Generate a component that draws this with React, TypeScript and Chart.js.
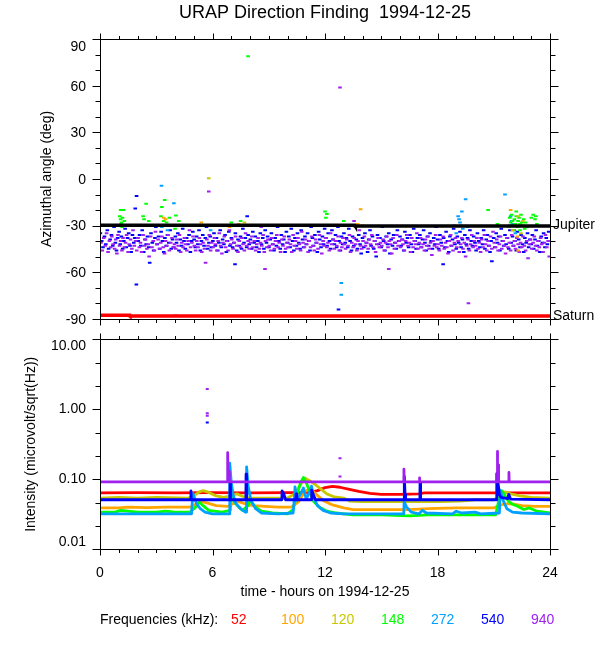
import React, { useEffect, useRef } from 'react';
import { Chart, registerables } from 'chart.js';

Chart.register(...registerables);

const FONT = '"Liberation Sans", Arial, Helvetica, sans-serif';

// ---------- shared axis values ----------
const hourMajor = [0, 6, 12, 18, 24];
const hourMinor = [1, 2, 3, 4, 5, 7, 8, 9, 10, 11, 13, 14, 15, 16, 17, 19, 20, 21, 22, 23];
const angleMajor = [-90, -60, -30, 0, 30, 60, 90];
const angleMinor = [-80, -70, -50, -40, -20, -10, 10, 20, 40, 50, 70, 80];
const intensityMajor = [0.01, 0.1, 1, 10];
const intensityMinor = [0.0215, 0.0464, 0.215, 0.464, 2.15, 4.64];

// ---------- frequencies ----------
const freqLabels = ['52', '100', '120', '148', '272', '540', '940'];
const freqColors = ['#ff0000', '#ffa500', '#c8c800', '#00ff00', '#00a0ff', '#0000ff', '#a020f0'];

// ---------- top panel: azimuth (deg) vs hour ----------
const jupiterLine: [number, number][] = [[0, -29.8], [13.6, -29.8], [13.62, -30.2], [24, -30.2]];
const saturnLine: [number, number][] = [[0, -87.8], [1.6, -87.8], [1.62, -88.3], [24, -88.3]];

const az940: [number, number][] = [
  [0.05,-41],[0.12,-46],[0.2,-38],[0.28,-43],[0.35,-35],[0.43,-47],[0.5,-40],[0.57,-44],[0.63,-37],[0.7,-42],[0.78,-45],[0.84,-39],[0.9,-48],[0.96,-36],
  [1.04,-43],[1.1,-40],[1.17,-46],[1.23,-38],[1.3,-44],[1.36,-41],[1.42,-36],[1.5,-47],[1.56,-42],[1.63,-39],[1.7,-45],[1.76,-33],[1.83,-43],[1.9,-40],[1.96,-46],
  [2.03,-38],[2.1,-44],[2.16,-41],[2.22,-47],[2.3,-36],[2.37,-43],[2.43,-39],[2.5,-45],[2.57,-42],[2.62,-50],[2.7,-37],[2.77,-44],[2.84,-40],[2.9,-46],[2.96,-34],
  [3.03,-42],[3.1,-39],[3.17,-45],[3.24,-41],[3.3,-37],[3.37,-44],[3.44,-48],[3.5,-40],[3.57,-43],[3.63,-36],[3.7,-46],[3.77,-41],[3.84,-38],[3.9,-44],[3.97,-42],
  [4.04,-45],[4.1,-39],[4.17,-43],[4.24,-36],[4.3,-47],[4.36,-41],[4.43,-44],[4.5,-38],[4.56,-42],[4.63,-46],[4.7,-40],[4.77,-33],[4.83,-44],[4.9,-41],[4.96,-37],
  [5.03,-43],[5.1,-46],[5.16,-40],[5.23,-44],[5.3,-38],[5.36,-42],[5.43,-47],[5.5,-41],[5.57,-45],[5.63,-54],[5.7,-39],[5.76,-43],[5.83,-36],[5.9,-46],[5.96,-41],
  [6.03,-44],[6.1,-38],[6.16,-42],[6.23,-46],[6.3,-40],[6.36,-35],[6.43,-43],[6.5,-48],[6.56,-41],[6.63,-37],[6.7,-44],[6.76,-40],[6.83,-46],[6.9,-33],[6.96,-42],
  [7.03,-39],[7.1,-45],[7.16,-41],[7.23,-37],[7.3,-43],[7.36,-47],[7.43,-40],[7.5,-44],[7.56,-38],[7.63,-42],[7.7,-46],[7.76,-35],[7.83,-43],[7.9,-40],[7.96,-45],
  [8.03,-41],[8.1,-37],[8.16,-44],[8.23,-40],[8.3,-46],[8.36,-42],[8.43,-38],[8.5,-45],[8.56,-41],[8.63,-43],[8.7,-36],[8.76,-47],[8.8,-58],[8.83,-40],[8.9,-44],[8.96,-39],
  [9.03,-43],[9.1,-46],[9.16,-38],[9.23,-42],[9.3,-45],[9.36,-40],[9.43,-36],[9.5,-44],[9.56,-41],[9.63,-47],[9.7,-39],[9.76,-43],[9.83,-37],[9.9,-45],[9.96,-41],
  [10.03,-44],[10.1,-39],[10.16,-42],[10.23,-47],[10.3,-36],[10.36,-43],[10.43,-40],[10.5,-45],[10.56,-38],[10.63,-42],[10.7,-46],[10.76,-34],[10.83,-41],[10.9,-44],[10.96,-39],
  [11.03,-42],[11.1,-47],[11.16,-40],[11.23,-44],[11.3,-37],[11.36,-43],[11.43,-46],[11.5,-39],[11.56,-41],[11.63,-45],[11.7,-36],[11.76,-42],[11.83,-48],[11.9,-40],[11.96,-43],
  [12.03,-38],[12.1,-44],[12.16,-41],[12.23,-46],[12.3,-35],[12.36,-42],[12.43,-39],[12.5,-45],[12.56,-40],[12.63,-43],[12.7,-37],[12.76,-46],[12.83,-41],[12.9,-44],[12.96,-38],
  [13.03,-42],[13.1,-45],[13.16,-39],[13.23,-43],[13.3,-36],[13.36,-47],[13.43,-41],[13.5,-44],[13.56,-38],[13.63,-42],[13.7,-46],[13.76,-40],[13.83,-33],[13.9,-43],[13.96,-45],
  [14.03,-40],[14.1,-37],[14.16,-43],[14.23,-41],[14.3,-45],[14.36,-39],[14.43,-42],[14.5,-36],[14.56,-44],[14.63,-40],[14.7,-47],[14.76,-42],[14.83,-38],[14.9,-44],[14.96,-41],
  [15.03,-43],[15.1,-39],[15.16,-46],[15.23,-41],[15.3,-37],[15.36,-44],[15.4,-58],[15.43,-40],[15.5,-42],[15.56,-48],[15.63,-38],[15.7,-45],[15.76,-41],[15.83,-36],[15.9,-43],[15.96,-40],
  [16.03,-44],[16.1,-39],[16.16,-42],[16.23,-46],[16.3,-40],[16.36,-36],[16.43,-43],[16.5,-41],[16.56,-47],[16.63,-38],[16.7,-44],[16.76,-40],[16.83,-42],[16.9,-35],[16.96,-45],
  [17.03,-41],[17.1,-38],[17.16,-44],[17.23,-42],[17.3,-46],[17.36,-39],[17.43,-43],[17.5,-37],[17.56,-45],[17.63,-41],[17.7,-49],[17.76,-40],[17.83,-43],[17.9,-36],[17.96,-44],
  [18.03,-42],[18.1,-46],[18.16,-39],[18.23,-43],[18.3,-37],[18.36,-45],[18.43,-41],[18.5,-44],[18.56,-48],[18.63,-40],[18.7,-36],[18.76,-43],[18.83,-46],[18.9,-41],[18.96,-38],
  [19.03,-44],[19.1,-40],[19.16,-47],[19.23,-42],[19.3,-38],[19.36,-45],[19.43,-41],[19.5,-50],[19.56,-43],[19.63,-39],[19.65,-80],[19.7,-46],[19.76,-42],[19.83,-36],[19.9,-44],[19.96,-40],
  [20.03,-43],[20.1,-38],[20.16,-45],[20.23,-41],[20.3,-47],[20.36,-39],[20.43,-44],[20.5,-36],[20.56,-42],[20.63,-46],[20.7,-40],[20.76,-43],[20.83,-37],[20.9,-45],[20.96,-34],
  [21.03,-41],[21.1,-44],[21.16,-39],[21.23,-46],[21.3,-42],[21.36,-37],[21.43,-45],[21.5,-40],[21.56,-43],[21.63,-48],[21.7,-38],[21.76,-44],[21.83,-41],[21.9,-46],[21.96,-36],
  [22.03,-43],[22.1,-40],[22.16,-45],[22.23,-38],[22.3,-42],[22.36,-47],[22.43,-41],[22.5,-44],[22.56,-37],[22.63,-43],[22.7,-46],[22.76,-40],[22.83,-51],[22.9,-42],[22.96,-39],
  [23.03,-45],[23.1,-41],[23.16,-37],[23.23,-43],[23.3,-46],[23.36,-40],[23.43,-44],[23.5,-38],[23.56,-42],[23.63,-47],[23.7,-41],[23.76,-36],[23.83,-44],[23.9,-40],[23.96,-50],
  [5.8,-8],[12.8,59],[4.05,-88],[13.55,-27],[8.6,-31]
];

const az540: [number, number][] = [
  [0.02,-35],[0.09,-40],[0.16,-44],[0.24,-37],[0.31,-42],[0.39,-33],[0.46,-45],[0.54,-39],[0.61,-36],[0.68,-43],[0.75,-31],[0.82,-41],[0.88,-46],[0.94,-38],
  [1.02,-34],[1.08,-42],[1.14,-37],[1.21,-45],[1.27,-40],[1.34,-32],[1.4,-44],[1.47,-38],[1.53,-35],[1.6,-43],[1.66,-47],[1.73,-36],[1.8,-41],[1.86,-38],[1.94,-68],[1.95,-11],[1.88,-19],
  [2.04,-40],[2.11,-36],[2.18,-43],[2.25,-33],[2.33,-47],[2.4,-39],[2.46,-42],[2.53,-37],[2.6,-44],[2.65,-54],[2.72,-35],[2.79,-41],[2.86,-46],[2.93,-38],[2.98,-31],
  [3.05,-42],[3.12,-37],[3.19,-45],[3.26,-34],[3.33,-40],[3.4,-47],[3.46,-38],[3.53,-43],[3.6,-36],[3.67,-41],[3.74,-33],[3.8,-45],[3.87,-39],[3.94,-44],
  [4.02,-37],[4.08,-41],[4.15,-35],[4.21,-46],[4.28,-39],[4.35,-43],[4.41,-32],[4.48,-40],[4.55,-45],[4.62,-38],[4.69,-42],[4.75,-36],[4.82,-47],[4.88,-40],[4.95,-34],
  [5.02,-39],[5.08,-44],[5.15,-37],[5.22,-42],[5.28,-33],[5.35,-46],[5.41,-40],[5.48,-36],[5.55,-43],[5.62,-38],[5.68,-31],[5.74,-45],[5.81,-41],[5.88,-37],[5.94,-44],
  [6.02,-40],[6.08,-35],[6.15,-43],[6.21,-38],[6.28,-46],[6.34,-41],[6.41,-33],[6.47,-44],[6.54,-39],[6.61,-42],[6.67,-36],[6.74,-47],[6.8,-40],[6.87,-34],[6.93,-43],
  [7.01,-38],[7.07,-44],[7.14,-41],[7.2,-55],[7.22,-35],[7.29,-46],[7.36,-39],[7.42,-43],[7.49,-37],[7.55,-45],[7.62,-32],[7.68,-41],[7.75,-38],[7.82,-44],[7.85,-24],[7.9,-36],[7.96,-42],
  [8.02,-39],[8.09,-45],[8.15,-34],[8.22,-41],[8.28,-37],[8.35,-44],[8.42,-40],[8.48,-47],[8.55,-35],[8.61,-42],[8.68,-38],[8.74,-45],[8.81,-33],[8.88,-41],[8.94,-37],
  [9.01,-44],[9.08,-39],[9.14,-35],[9.21,-42],[9.28,-46],[9.34,-38],[9.41,-43],[9.47,-31],[9.54,-40],[9.61,-45],[9.67,-36],[9.74,-42],[9.8,-39],[9.87,-47],[9.94,-34],
  [10.01,-41],[10.07,-37],[10.14,-44],[10.2,-32],[10.27,-40],[10.34,-46],[10.4,-38],[10.47,-43],[10.53,-35],[10.6,-41],[10.67,-45],[10.73,-33],[10.8,-39],[10.86,-44],[10.93,-37],
  [11.0,-42],[11.07,-35],[11.13,-40],[11.2,-46],[11.26,-31],[11.33,-38],[11.39,-43],[11.46,-36],[11.53,-41],[11.59,-47],[11.66,-34],[11.72,-39],[11.79,-44],[11.86,-37],[11.92,-42],[11.98,-32],
  [12.05,-38],[12.11,-43],[12.17,-35],[12.24,-40],[12.3,-45],[12.37,-33],[12.43,-39],[12.5,-42],[12.56,-36],[12.62,-44],[12.69,-31],[12.72,-84],[12.75,-40],[12.82,-46],[12.88,-37],[12.94,-42],
  [13.01,-35],[13.08,-41],[13.14,-38],[13.21,-44],[13.27,-32],[13.34,-40],[13.41,-46],[13.47,-37],[13.54,-43],[13.6,-30],[13.67,-39],[13.73,-45],[13.8,-36],[13.87,-42],[13.93,-48],
  [14.0,-38],[14.07,-44],[14.13,-35],[14.2,-41],[14.27,-47],[14.33,-39],[14.4,-33],[14.46,-43],[14.53,-37],[14.6,-45],[14.66,-40],[14.73,-50],[14.8,-36],[14.86,-42],[14.93,-38],
  [15.0,-44],[15.06,-31],[15.13,-40],[15.2,-46],[15.26,-37],[15.33,-42],[15.4,-35],[15.46,-48],[15.53,-39],[15.6,-43],[15.66,-36],[15.73,-41],[15.8,-45],[15.86,-33],[15.93,-40],
  [16.0,-37],[16.06,-43],[16.13,-39],[16.2,-46],[16.26,-34],[16.33,-41],[16.4,-38],[16.46,-44],[16.53,-36],[16.6,-42],[16.66,-47],[16.73,-32],[16.8,-40],[16.86,-45],[16.93,-38],
  [17.0,-42],[17.06,-36],[17.13,-44],[17.2,-39],[17.26,-33],[17.33,-41],[17.4,-46],[17.46,-37],[17.53,-43],[17.6,-35],[17.66,-40],[17.73,-45],[17.8,-38],[17.86,-42],[17.93,-31],
  [18.0,-39],[18.06,-45],[18.13,-36],[18.2,-41],[18.3,-55],[18.33,-38],[18.4,-44],[18.46,-34],[18.53,-40],[18.6,-47],[18.66,-37],[18.73,-43],[18.8,-39],[18.86,-32],[18.93,-42],
  [19.0,-45],[19.06,-37],[19.13,-41],[19.2,-34],[19.26,-44],[19.33,-39],[19.4,-47],[19.46,-36],[19.53,-42],[19.6,-38],[19.66,-45],[19.73,-33],[19.8,-40],[19.86,-43],[19.93,-37],
  [20.0,-41],[20.06,-46],[20.13,-35],[20.2,-40],[20.26,-44],[20.33,-38],[20.4,-42],[20.46,-33],[20.53,-45],[20.6,-39],[20.66,-36],[20.73,-43],[20.8,-47],[20.86,-40],[20.9,-53],
  [21.0,-38],[21.06,-44],[21.13,-35],[21.2,-41],[21.26,-37],[21.33,-46],[21.4,-32],[21.46,-40],[21.53,-43],[21.6,-36],[21.66,-42],[21.73,-38],[21.8,-45],[21.86,-33],[21.93,-41],
  [22.0,-37],[22.06,-43],[22.13,-40],[22.2,-46],[22.26,-34],[22.33,-39],[22.4,-44],[22.46,-36],[22.53,-42],[22.6,-47],[22.66,-38],[22.73,-41],[22.8,-35],[22.86,-44],[22.93,-39],
  [23.0,-42],[23.06,-36],[23.13,-45],[23.2,-39],[23.26,-33],[23.33,-43],[23.4,-40],[23.46,-47],[23.53,-37],[23.6,-41],[23.66,-35],[23.73,-44],[23.8,-38],[23.86,-42],[23.93,-34]
];

const az272: [number, number][] = [
  [3.28,-4.3],[3.94,-15.7],[3.3,-31],[3.6,-33],[5.9,-33],[7.0,-30],[8.3,-30],[12.87,-67],[12.87,-74.6],
  [18.9,-30],[19.0,-35],[19.1,-24],[19.15,-26],[19.2,-28],[19.25,-30],[19.3,-21],[19.35,-32],[19.5,-13],[19.6,-31],
  [21.6,-10],[21.85,-30],[21.9,-24],[21.95,-27],[22.0,-29],[22.1,-33],[22.15,-35]
];

const az148: [number, number][] = [
  [1.05,-24],[1.1,-26],[1.15,-28],[1.2,-25],[1.1,-20],[1.25,-20],[1.18,-31],[1.3,-27],[1.12,-29],
  [2.3,-24],[2.35,-26],[2.46,-16],[2.6,-27],[3.25,-24],[3.3,-18],[3.4,-27],[3.45,-13.5],[3.55,-28],[3.7,-25],
  [4.0,-32],[4.05,-23.5],[4.2,-27],[7.0,-28],[7.5,-27],[7.9,79],[12.0,-21],[12.05,-25],[12.1,-22.5],[13.0,-27],
  [20.7,-20],[21.2,-29],[21.8,-31],[21.85,-25],[21.9,-28],[21.95,-23],[22.0,-27],[22.05,-30],[22.05,-33],[22.1,-26],
  [22.15,-29],[22.2,-24],[22.2,-21],[22.25,-31],[22.3,-27],[22.35,-25],[22.4,-29],[22.4,-33],[22.45,-23],[22.5,-28],
  [22.55,-30],[22.6,-26],[22.65,-32],[22.7,-28],[22.8,-31],[23.0,-25],[23.1,-23],[23.2,-26],[23.25,-24],[23.3,-29]
];

const az120: [number, number][] = [
  [5.8,0.5],[7.7,-28],[22.1,-30],[22.3,-24],[22.45,-35],[22.55,-27]
];

const az100: [number, number][] = [
  [2.5,-30],[3.4,-25],[3.5,-26],[5.4,-28],[6.9,-31],[7.4,-29],[13.75,-29],[13.9,-19.5],[14.0,-30],
  [21.9,-20],[22.0,-33],[22.25,-37],[22.3,-46]
];

// ---------- bottom panel: intensity vs hour ----------
const int52: [number, number][] = [
  [0,0.064],[2,0.0645],[4,0.064],[6,0.0645],[8,0.064],[10,0.0645],[11.2,0.065],[11.6,0.069],[12.0,0.076],[12.4,0.079],
  [12.8,0.077],[13.3,0.072],[13.8,0.067],[14.4,0.063],[15.0,0.061],[16.0,0.061],[17.0,0.062],[17.3,0.064],[20,0.064],[24,0.064]
];
const int100: [number, number][] = [
  [0,0.039],[1.0,0.039],[1.5,0.040],[2.5,0.0395],[3.5,0.040],[4.8,0.040],[5.1,0.044],[5.4,0.048],[5.7,0.046],[6.2,0.042],
  [6.8,0.041],[7.1,0.045],[7.4,0.048],[7.8,0.044],[8.2,0.042],[8.8,0.041],[9.5,0.040],[10.2,0.040],[10.6,0.048],[10.9,0.066],
  [11.2,0.074],[11.5,0.062],[11.9,0.050],[12.4,0.043],[13.0,0.039],[13.5,0.037],[15,0.037],[16.5,0.037],[17.5,0.038],[19,0.039],
  [21,0.039],[21.5,0.044],[21.9,0.045],[22.5,0.042],[23.2,0.041],[24,0.041]
];
const int120: [number, number][] = [
  [0,0.054],[1,0.055],[2,0.054],[3,0.055],[4.7,0.054],[5.0,0.058],[5.3,0.066],[5.5,0.069],[5.8,0.065],[6.2,0.058],
  [6.6,0.055],[7.0,0.058],[7.3,0.062],[7.6,0.057],[8,0.054],[9,0.054],[10,0.054],[10.4,0.062],[10.7,0.085],[10.95,0.104],
  [11.2,0.095],[11.5,0.083],[11.8,0.072],[12.1,0.062],[12.5,0.056],[13.0,0.054],[13.3,0.049],[14,0.048],[16,0.048],[18,0.048],
  [19.2,0.049],[20,0.051],[21,0.051],[21.4,0.058],[21.6,0.066],[21.9,0.062],[22.4,0.058],[23,0.055],[24,0.054]
];
const int148: [number, number][] = [
  [0,0.034],[0.8,0.034],[1.1,0.036],[1.5,0.035],[2,0.034],[3,0.034],[3.5,0.035],[4,0.034],[4.8,0.034],[5.1,0.040],
  [5.3,0.047],[5.5,0.042],[5.8,0.036],[6.5,0.034],[6.95,0.036],[7.0,0.058],[7.2,0.046],[7.4,0.040],[7.6,0.036],[7.9,0.042],
  [8.0,0.050],[8.3,0.040],[8.6,0.035],[9.2,0.033],[10.0,0.032],[10.3,0.037],[10.5,0.060],[10.7,0.090],[10.85,0.106],[11.0,0.090],
  [11.15,0.070],[11.4,0.048],[11.7,0.040],[12.1,0.035],[12.6,0.033],[13.5,0.031],[15,0.031],[16.5,0.030],[17.5,0.031],[19,0.031],
  [21.1,0.031],[21.3,0.055],[21.45,0.068],[21.6,0.058],[21.8,0.048],[22.0,0.044],[22.3,0.041],[22.6,0.037],[22.9,0.039],[23.3,0.035],[24,0.033]
];
const int272: [number, number][] = [
  [0,0.032],[1,0.032],[2,0.032],[3,0.032],[4.88,0.032],[4.95,0.063],[5.15,0.045],[5.35,0.038],[5.6,0.034],[6,0.032],
  [6.9,0.032],[6.92,0.17],[7.0,0.09],[7.1,0.06],[7.25,0.045],[7.5,0.038],[7.75,0.034],[7.8,0.034],[7.82,0.15],[7.9,0.08],
  [8.05,0.05],[8.3,0.038],[8.6,0.033],[9.5,0.032],[10.3,0.033],[10.38,0.06],[10.4,0.078],[10.5,0.05],[10.7,0.062],[10.85,0.075],
  [11.0,0.052],[11.2,0.068],[11.28,0.08],[11.4,0.055],[11.6,0.042],[11.9,0.036],[12.3,0.033],[13,0.032],[16.2,0.032],[16.22,0.048],
  [16.35,0.04],[16.6,0.034],[17.0,0.032],[17.2,0.036],[17.4,0.033],[18.8,0.032],[19.0,0.035],[19.3,0.033],[20.0,0.034],[20.3,0.032],
  [21.3,0.033],[21.35,0.07],[21.5,0.05],[21.7,0.038],[22.0,0.034],[22.5,0.033],[24,0.032]
];
const int540: [number, number][] = [
  [0,0.051],[4.84,0.051],[4.85,0.068],[4.87,0.051],[6.93,0.051],[6.94,0.09],[6.96,0.051],[7.78,0.051],[7.79,0.118],[7.81,0.06],
  [7.83,0.051],[9.7,0.051],[9.71,0.068],[9.8,0.062],[9.9,0.051],[10.45,0.051],[10.46,0.062],[10.5,0.051],[11.28,0.051],[11.29,0.07],
  [11.4,0.058],[11.5,0.051],[16.22,0.051],[16.23,0.11],[16.27,0.06],[16.3,0.051],[17.06,0.051],[17.07,0.09],[17.1,0.051],[21.15,0.051],
  [21.16,0.12],[21.25,0.08],[21.3,0.06],[21.4,0.055],[21.75,0.053],[21.8,0.061],[21.9,0.052],[24,0.051]
];
const int940: [number, number][] = [
  [0,0.092],[6.8,0.092],[6.81,0.24],[6.83,0.11],[6.88,0.13],[6.9,0.092],[16.2,0.092],[16.21,0.14],[16.22,0.092],[17.03,0.092],
  [17.04,0.105],[17.05,0.092],[21.18,0.092],[21.19,0.25],[21.21,0.12],[21.24,0.16],[21.26,0.092],[21.8,0.092],[21.81,0.125],[21.82,0.092],
  [24,0.092]
];
const dots940: [number, number][] = [[5.72,1.95],[5.72,0.88],[5.72,0.81],[12.8,0.2],[12.8,0.11]];
const dots540: [number, number][] = [[5.72,0.65]];

// ---------- frame / tick plugin ----------
const framePlugin = {
  id: 'frame',
  afterDatasetsDraw(chart: any, _args: any, opts: any) {
    const { ctx, chartArea: a, scales } = chart;
    const xs = scales.x;
    const ys = scales.y;
    const L = Math.round(a.left) + 0.5;
    const R = Math.round(a.right) + 0.5;
    const T = Math.round(a.top) + 0.5;
    const B = Math.round(a.bottom) + 0.5;
    ctx.save();
    ctx.strokeStyle = '#000';
    ctx.lineWidth = 1;
    ctx.beginPath();
    ctx.rect(L, T, R - L, B - T);
    const xt: [number[], number][] = [[opts.xMajor, 6], [opts.xMinor, 3.5]];
    for (const [vals, len] of xt) {
      for (const v of vals) {
        const p = Math.round(xs.getPixelForValue(v)) + 0.5;
        ctx.moveTo(p, T); ctx.lineTo(p, T - len);
        ctx.moveTo(p, B); ctx.lineTo(p, B + len);
      }
    }
    const yt: [number[], number][] = [[opts.yMajor, 8], [opts.yMinor, 5]];
    for (const [vals, len] of yt) {
      for (const v of vals) {
        const p = Math.round(ys.getPixelForValue(v)) + 0.5;
        ctx.moveTo(L, p); ctx.lineTo(L - len, p);
        ctx.moveTo(R, p); ctx.lineTo(R + len, p);
      }
    }
    ctx.stroke();
    ctx.fillStyle = '#000';
    ctx.font = '14px ' + FONT;
    ctx.textBaseline = 'middle';
    ctx.textAlign = 'left';
    if (opts.marks) {
      for (const m of opts.marks) {
        ctx.fillText(m.text, a.right + 3, ys.getPixelForValue(m.value));
      }
    }
    if (opts.legend) {
      const y = opts.legend.y;
      ctx.fillText(opts.legend.title, a.left, y);
      opts.legend.labels.forEach((lab: string, i: number) => {
        ctx.fillStyle = opts.legend.colors[i];
        ctx.fillText(lab, 231 + 50 * i, y);
      });
    }
    ctx.restore();
  },
};

const tickFont = { family: FONT, size: 14, weight: 'normal' as const };
const yTickFont = { family: FONT, size: 14, weight: 'normal' as const, lineHeight: 1.0 };

function fixY(width: number) {
  return (s: any) => {
    s.width = width;
    s.paddingTop = 0;
    s.paddingBottom = 0;
  };
}

function pointSet(data: [number, number][], color: string, order: number) {
  return {
    data,
    showLine: false,
    pointStyle: 'line',
    pointRadius: 1.8,
    pointBorderWidth: 2,
    pointBorderColor: color,
    pointBackgroundColor: color,
    borderColor: color,
    backgroundColor: color,
    order,
  };
}

function topConfig(): any {
  return {
    type: 'scatter',
    data: {
      datasets: [
        { label: 'Jupiter', data: jupiterLine, showLine: true, borderColor: '#000', borderWidth: 3.5, pointRadius: 0, order: 0 },
        { label: 'Saturn', data: saturnLine, showLine: true, borderColor: '#ff0000', borderWidth: 3.5, pointRadius: 0, order: 0 },
        pointSet(az100, freqColors[1], 1),
        pointSet(az120, freqColors[2], 1),
        pointSet(az148, freqColors[3], 1),
        pointSet(az272, freqColors[4], 1),
        pointSet(az940, freqColors[6], 2),
        pointSet(az540, freqColors[5], 3),
      ],
    },
    options: {
      animation: false,
      responsive: false,
      events: [],
      layout: { padding: { left: 0, right: 50, top: 0, bottom: 11.3 } },
      plugins: {
        legend: { display: false },
        tooltip: { enabled: false },
        title: {
          display: true,
          text: 'URAP Direction Finding  1994-12-25',
          fullSize: false,
          color: '#000',
          font: { family: FONT, size: 18, weight: 'normal' },
          padding: { top: 2.7, bottom: 15 },
        },
        frame: {
          xMajor: hourMajor, xMinor: hourMinor, yMajor: angleMajor, yMinor: angleMinor,
          marks: [{ text: 'Jupiter', value: -30 }, { text: 'Saturn', value: -88.5 }],
        },
      },
      scales: {
        x: { type: 'linear', min: 0, max: 24, display: false },
        y: {
          type: 'linear', min: -90, max: 90,
          afterBuildTicks: (s: any) => { s.ticks = angleMajor.map((v) => ({ value: v })); },
          afterFit: fixY(100),
          grid: { display: false, drawTicks: false },
          border: { display: false },
          ticks: {
            color: '#000', font: yTickFont, padding: 14, labelOffset: 1,
            callback: (v: any) => (v === 90 ? ['', '90'] : String(v)),
          },
          title: {
            display: true, text: 'Azimuthal angle (deg)', color: '#000', font: tickFont,
            padding: { top: 38.6, bottom: 0 },
          },
        },
      },
    },
    plugins: [framePlugin],
  };
}

function lineSet(label: string, data: [number, number][], color: string, order: number) {
  return {
    label, data, borderColor: color, backgroundColor: color, borderWidth: 2.8,
    borderJoinStyle: 'round', pointRadius: 0, tension: 0, fill: false, order,
  };
}

function intensityLabel(v: any) {
  const s = Number(v).toFixed(2);
  if (Number(v) >= 10) return ['', s];
  if (Number(v) <= 0.01) return [s, ''];
  return s;
}

function bottomConfig(): any {
  const orders = [6, 5, 4, 3, 2, 1, 0];
  const series = [int52, int100, int120, int148, int272, int540, int940];
  return {
    type: 'line',
    data: {
      datasets: [
        ...series.map((s, i) => lineSet(freqLabels[i], s, freqColors[i], orders[i])),
        { ...pointSet(dots940, freqColors[6], 0), pointRadius: 1.5 },
        { ...pointSet(dots540, freqColors[5], 0), pointRadius: 1.5 },
      ],
    },
    options: {
      animation: false,
      responsive: false,
      events: [],
      layout: { padding: { left: 0, right: 50, top: 9.3, bottom: 49.6 } },
      plugins: {
        legend: { display: false },
        tooltip: { enabled: false },
        frame: {
          xMajor: hourMajor, xMinor: hourMinor, yMajor: intensityMajor, yMinor: intensityMinor,
          legend: { title: 'Frequencies (kHz):', labels: freqLabels, colors: freqColors, y: 290.5 },
        },
      },
      scales: {
        x: {
          type: 'linear', min: 0, max: 24,
          afterBuildTicks: (s: any) => { s.ticks = hourMajor.map((v) => ({ value: v })); },
          afterFit: (s: any) => { s.height = 51.1; },
          grid: { display: false, drawTicks: false },
          border: { display: false },
          ticks: { color: '#000', font: tickFont, padding: 15.3, autoSkip: false, maxRotation: 0, callback: (v: any) => String(v) },
          title: {
            display: true, text: 'time - hours on 1994-12-25', color: '#000', font: tickFont,
            padding: { top: 0, bottom: 0 },
          },
        },
        y: {
          type: 'logarithmic', min: 0.01, max: 10,
          afterBuildTicks: (s: any) => { s.ticks = intensityMajor.map((v) => ({ value: v })); },
          afterFit: fixY(100),
          grid: { display: false, drawTicks: false },
          border: { display: false },
          ticks: { color: '#000', font: yTickFont, padding: 14, callback: intensityLabel },
          title: {
            display: true, text: 'Intensity (microvolt/sqrt(Hz))', color: '#000', font: tickFont,
            padding: { top: 23, bottom: 0 },
          },
        },
      },
    },
    plugins: [framePlugin],
  };
}

export default function App() {
  const topRef = useRef<HTMLCanvasElement>(null);
  const botRef = useRef<HTMLCanvasElement>(null);
  useEffect(() => {
    const c1 = new Chart(topRef.current as HTMLCanvasElement, topConfig());
    const c2 = new Chart(botRef.current as HTMLCanvasElement, bottomConfig());
    return () => {
      c1.destroy();
      c2.destroy();
    };
  }, []);
  return (
    <div style={{ position: 'absolute', left: 0, top: 0, width: 600, height: 650, background: '#fff' }}>
      <canvas ref={topRef} width={600} height={330} style={{ position: 'absolute', left: 0, top: 0 }} />
      <canvas ref={botRef} width={600} height={320} style={{ position: 'absolute', left: 0, top: 330 }} />
    </div>
  );
}
